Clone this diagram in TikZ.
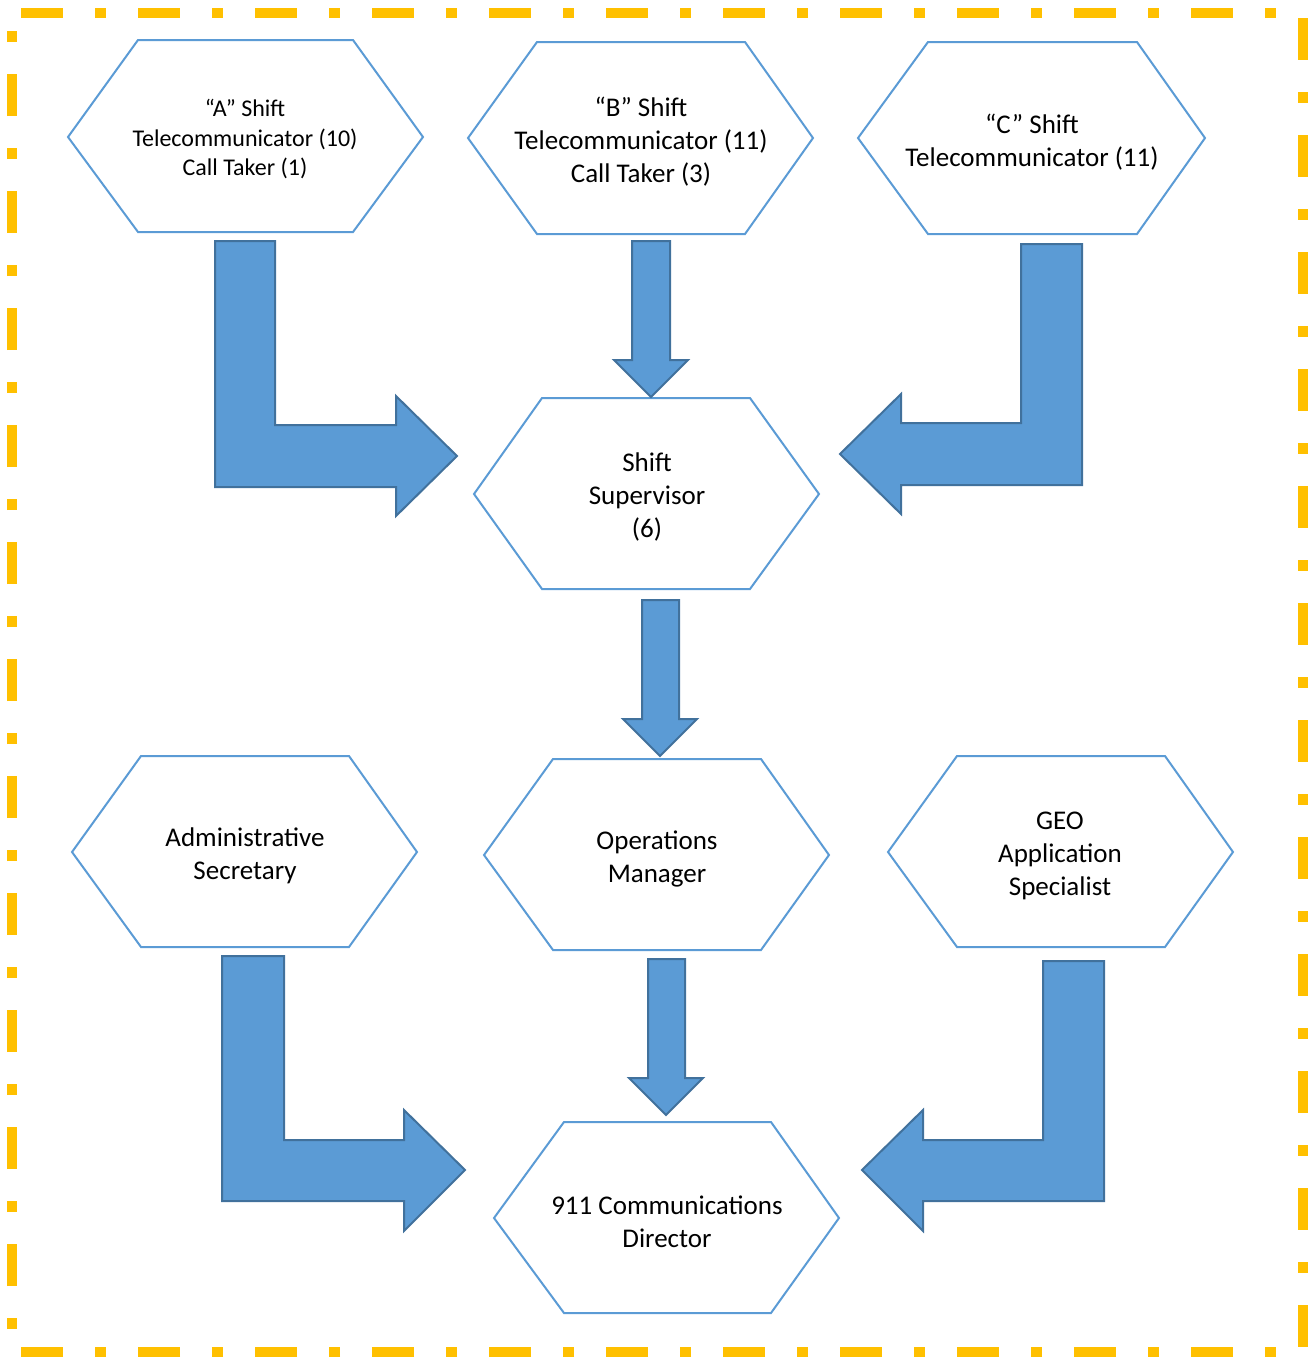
\documentclass[tikz,border=0pt]{standalone}
\usepackage{fontspec}
\setmainfont{Carlito}
\definecolor{hexblue}{HTML}{5B9BD5}
\definecolor{arrowfill}{HTML}{5B9BD5}
\definecolor{arrowline}{HTML}{41719C}
\definecolor{borderyellow}{HTML}{FFC000}
\begin{document}
\begin{tikzpicture}[x=0.5pt,y=-0.5pt,
  hexline/.style={draw=hexblue,line width=1pt,fill=white,line join=miter},
  blockarrow/.style={fill=arrowfill,draw=arrowline,line width=1pt,line join=miter},
  lbl/.style={align=center,font=\fontsize{13.5}{16.5}\selectfont,inner sep=0pt},
  lblsmall/.style={align=center,font=\fontsize{12}{14.75}\selectfont,inner sep=0pt},
  frameline/.style={draw=borderyellow,line width=5pt,dash pattern=on 21pt off 16pt on 5.5pt off 16pt,dash phase=54pt}]
\useasboundingbox (0,0) rectangle (1308,1357);
\draw[frameline] (12,13) -- (1303,13) -- (1303,1352) -- (12,1352) -- cycle;

% hexagons
\draw[hexline] (68,137) -- (138,40) -- (353,40) -- (423,137) -- (353,232) -- (138,232) -- cycle;
\draw[hexline] (468,138) -- (537,42) -- (745,42) -- (813,138) -- (745,234) -- (537,234) -- cycle;
\draw[hexline] (858,138) -- (928,42) -- (1137,42) -- (1205,138) -- (1137,234) -- (928,234) -- cycle;
\draw[hexline] (474,494) -- (542,398) -- (750,398) -- (819,494) -- (750,589) -- (542,589) -- cycle;
\draw[hexline] (72,852) -- (141,756) -- (349,756) -- (417,852) -- (349,947) -- (141,947) -- cycle;
\draw[hexline] (484,855) -- (553,759) -- (761,759) -- (829,855) -- (761,950) -- (553,950) -- cycle;
\draw[hexline] (888,852) -- (957,756) -- (1165,756) -- (1233,852) -- (1165,947) -- (957,947) -- cycle;
\draw[hexline] (494,1218) -- (564,1122) -- (771,1122) -- (839,1218) -- (771,1313) -- (564,1313) -- cycle;

% labels
\node[lblsmall] (ashift) at (245,139) {“A” Shift\\Telecommunicator (10)\\Call Taker (1)};
\node[lbl] (bshift) at (641,142) {“B” Shift\\Telecommunicator (11)\\Call Taker (3)};
\node[lbl] (cshift) at (1032,142) {“C” Shift\\Telecommunicator (11)};
\node[lbl] (super) at (647,497) {Shift\\Supervisor\\(6)};
\node[lbl] (admin) at (245,856) {Administrative\\Secretary};
\node[lbl] (ops) at (657,859) {Operations\\Manager};
\node[lbl] (geo) at (1060,856) {GEO\\Application\\Specialist};
\node[lbl] (dir) at (667,1222) {911 Communications\\Director};

% block arrows
\draw[blockarrow] (215,241) -- (275,241) -- (275,425) -- (396,425) -- (396,396) -- (457,456) -- (396,516) -- (396,487) -- (215,487) -- cycle;
\draw[blockarrow] (632,241) -- (670,241) -- (670,360) -- (688,360) -- (651,397) -- (614,360) -- (632,360) -- cycle;
\draw[blockarrow] (1082,244) -- (1021,244) -- (1021,423) -- (901,423) -- (901,394) -- (840,454) -- (901,514) -- (901,485) -- (1082,485) -- cycle;
\draw[blockarrow] (642,600) -- (679,600) -- (679,719) -- (697,719) -- (660,756) -- (623,719) -- (642,719) -- cycle;
\draw[blockarrow] (222,956) -- (284,956) -- (284,1140) -- (404,1140) -- (404,1110) -- (465,1170) -- (404,1231) -- (404,1201) -- (222,1201) -- cycle;
\draw[blockarrow] (648,959) -- (685,959) -- (685,1078) -- (703,1078) -- (666,1115) -- (629,1078) -- (648,1078) -- cycle;
\draw[blockarrow] (1104,961) -- (1043,961) -- (1043,1140) -- (923,1140) -- (923,1110) -- (862,1170) -- (923,1231) -- (923,1201) -- (1104,1201) -- cycle;
\end{tikzpicture}
\end{document}
